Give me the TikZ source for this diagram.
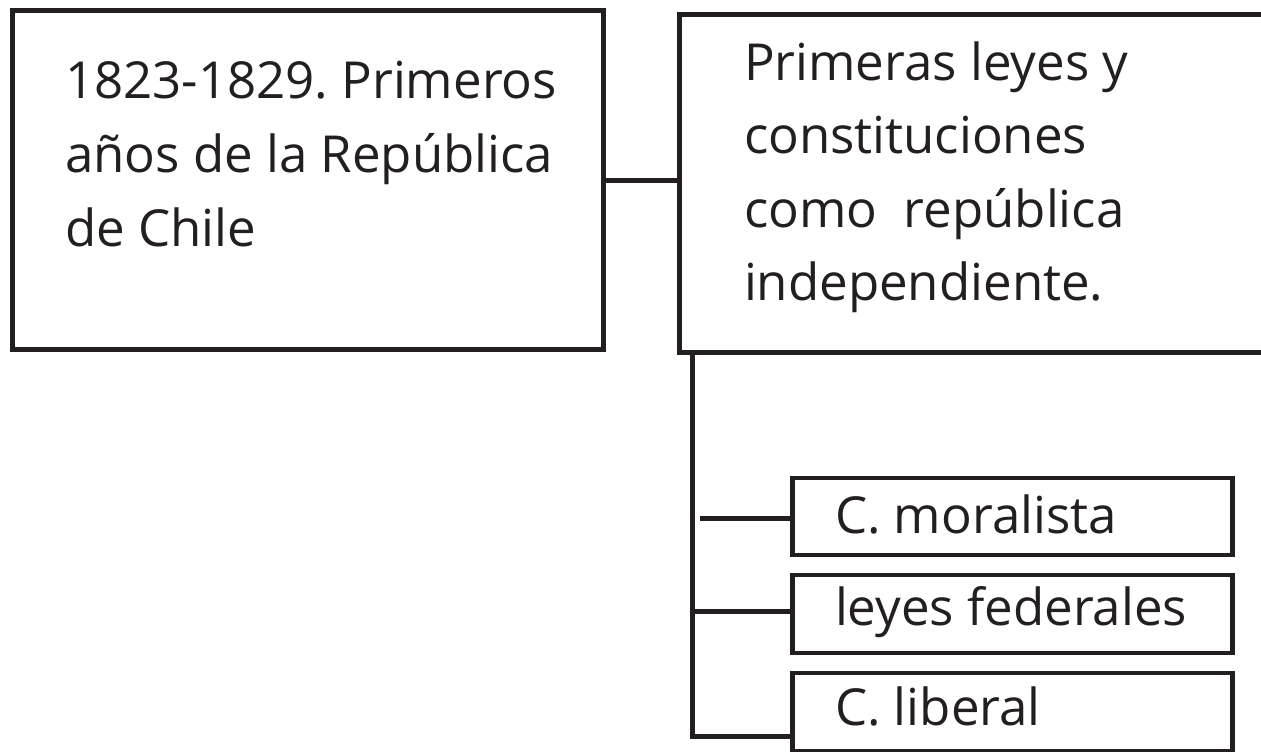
\documentclass[tikz,border=0pt]{standalone}
\usepackage{fontspec}
\setmainfont{Open Sans}
\frenchspacing
\definecolor{ink}{HTML}{231F20}
\begin{document}
\begin{tikzpicture}[x=1pt,y=-1pt,
  box/.style={draw=ink, line width=4.8pt, rectangle, inner sep=0pt, anchor=north west},
  lbl/.style={inner sep=0pt, outer sep=0pt, anchor=base west, align=left, text=ink,
    font=\fontsize{51}{74}\selectfont},
  conn/.style={draw=ink, line width=5pt}]
\useasboundingbox (0,0) rectangle (1261,752);
\fill[white] (0,0) rectangle (1261,752);
\clip (0,0) rectangle (1261,752);
% main boxes
\node[box, minimum width=591pt, minimum height=339pt] (b1) at (10,8) {};
\node[box, minimum width=620pt, minimum height=337.5pt] (b2) at (677,12.5) {};
% sub boxes
\node[box, minimum width=440pt, minimum height=77pt] (bA) at (790,475.5) {};
\node[box, minimum width=440pt, minimum height=78pt] (bB) at (790,572.5) {};
\node[box, minimum width=440pt, minimum height=78.5pt] (bC) at (790,670.5) {};
% labels (base anchor = baseline of the last line)
\node[lbl] (t1) at (65,246) {1823-1829. Primeros\\años de la República\\de Chile};
\node[lbl, font=\fontsize{51}{73.5}\selectfont] (t2) at (744,300.5) {Primeras leyes y\\constituciones\\como~ república\\independiente.};
\node[lbl] (tA) at (835,533) {C. moralista};
\node[lbl] (tB) at (835,625) {leyes federales};
\node[lbl] (tC) at (835,725) {C. liberal};
% connectors
\coordinate (h1) at (601,180);
\draw[conn] (h1) -- (h1 -| b2.west);
\coordinate (tb) at (692,736);
\draw[conn] (b2.south -| tb) -- (tb) -- (tb -| bC.west);
\coordinate (ja) at (700,518);
\draw[conn] (ja) -- (ja -| bA.west);
\coordinate (jb) at (695,611);
\draw[conn] (jb) -- (jb -| bB.west);
\end{tikzpicture}
\end{document}
